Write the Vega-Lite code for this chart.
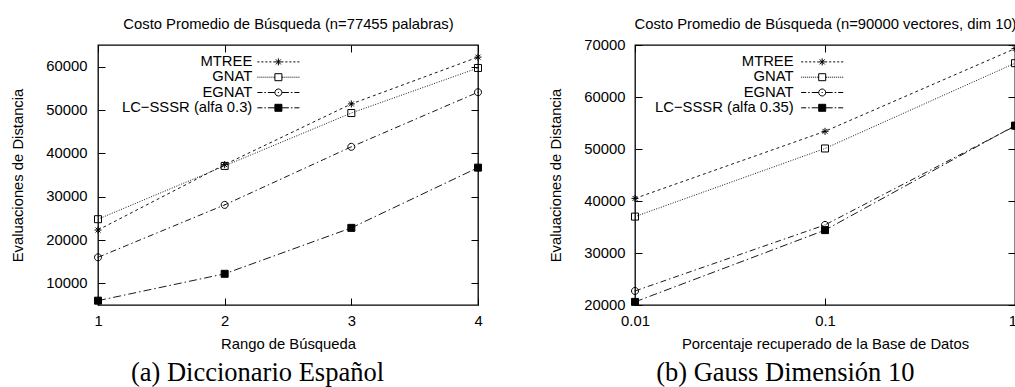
{
  "$schema": "https://vega.github.io/schema/vega-lite/v6.json",
  "padding": {"left": 10, "top": 15, "right": 0, "bottom": 0},
  "background": "white",
  "spacing": 63,
  "config": {
    "view": {"stroke": "black", "strokeWidth": 1.3},
    "axis": {"labelFont": "Liberation Sans", "labelFontSize": 14.8, "labelColor": "black", "titleFont": "Liberation Sans", "titleFontSize": 14.8, "titleFontWeight": "normal", "titleColor": "black", "tickColor": "black", "tickWidth": 1, "tickSize": -7, "domain": false, "grid": false, "labelFlush": false, "labelOverlap": false, "titleLimit": 1000, "labelLimit": 300},
    "legend": {"orient": "none", "labelFont": "Liberation Sans", "labelFontSize": 14.8, "labelColor": "black", "labelLimit": 400, "padding": 0, "rowPadding": -0.7, "symbolStrokeWidth": 1, "symbolStrokeColor": "black", "symbolOpacity": 1, "labelAlign": "right"}
  },
  "hconcat": [
    {
      "width": 380, "height": 260,
      "title": {"text": "(a) Diccionario Español", "orient": "bottom", "anchor": "middle", "font": "Liberation Serif", "fontSize": 26.5, "fontWeight": "normal", "color": "black", "offset": 8, "dx": -30.5},
      "data": {"values": [
        {"series": "MTREE", "x": 1, "y": 22300}, {"series": "MTREE", "x": 2, "y": 37400}, {"series": "MTREE", "x": 3, "y": 51400}, {"series": "MTREE", "x": 4, "y": 62200},
        {"series": "GNAT", "x": 1, "y": 24800}, {"series": "GNAT", "x": 2, "y": 37100}, {"series": "GNAT", "x": 3, "y": 49300}, {"series": "GNAT", "x": 4, "y": 59700},
        {"series": "EGNAT", "x": 1, "y": 16000}, {"series": "EGNAT", "x": 2, "y": 28100}, {"series": "EGNAT", "x": 3, "y": 41500}, {"series": "EGNAT", "x": 4, "y": 54100},
        {"series": "LC−SSSR (alfa 0.3)", "x": 1, "y": 6000}, {"series": "LC−SSSR (alfa 0.3)", "x": 2, "y": 12200}, {"series": "LC−SSSR (alfa 0.3)", "x": 3, "y": 22800}, {"series": "LC−SSSR (alfa 0.3)", "x": 4, "y": 36700}
      ]},
      "layer": [
        {
          "mark": {"type": "line", "color": "#1a1a1a"},
          "encoding": {
            "x": {"field": "x", "type": "quantitative", "scale": {"domain": [1, 4], "nice": false, "zero": false}, "axis": {"orient": "bottom", "title": "Rango de Búsqueda", "values": [1, 2, 3, 4], "format": "d", "labelPadding": 15.5, "titlePadding": 8.5}},
            "y": {"field": "y", "type": "quantitative", "scale": {"domain": [5000, 65000], "nice": false, "zero": false}, "axis": {"orient": "left", "title": "Evaluaciones de Distancia", "values": [10000, 20000, 30000, 40000, 50000, 60000], "format": "d", "labelPadding": 18, "titlePadding": 20}},
            "strokeDash": {"field": "series", "type": "nominal", "scale": {"domain": ["EGNAT", "GNAT", "LC−SSSR (alfa 0.3)", "MTREE"], "range": [[6, 3, 1.5, 3], [1, 1.5], [8, 3, 1.5, 3], [3, 3]]}, "legend": null},
            "strokeWidth": {"field": "series", "type": "nominal", "scale": {"domain": ["MTREE", "GNAT", "EGNAT", "LC−SSSR (alfa 0.3)"], "range": [1, 1, 1, 1]},
              "legend": {"orient": "none", "legendX": 173, "legendY": 9.5, "title": null, "symbolSize": 4, "labelOffset": -33.5,
                "encoding": {
                  "symbols": {"shape": {"value": {"expr": "['M-21,0h2M-17,0h2M-13,0h2M-9,0h2M-5,0h1.5M3.5,0h1.5M7,0h2M11,0h2M15,0h2M19,0h2M-3.5,0h7M0,-3.5v7M-2.5,-2.5l5,5M-2.5,2.5l5,-5','M-21,0h1M-19,0h1M-17,0h1M-15,0h1M-13,0h1M-11,0h1M-9,0h1M-7,0h1M-5,0h1.5M3.5,0h1.5M6,0h1M8,0h1M10,0h1M12,0h1M14,0h1M16,0h1M18,0h1M20,0h1M-3.5,-3.5h7v7h-7Z','M-21,0h5M-14,0h1.5M-10.5,0h7M3.5,0h7M12.5,0h1.5M16,0h5M-3.5,0a3.5,3.5,0,1,0,7,0a3.5,3.5,0,1,0,-7,0ZM-0.5,0h1','M-21,0h5M-14,0h1.5M-10.5,0h7M3.5,0h7M12.5,0h1.5M16,0h5M-3.5,-3.5h7v7h-7Z'][datum.index]"}}, "size": {"value": 4}, "fill": {"value": {"expr": "datum.index === 3 ? 'black' : 'transparent'"}}, "stroke": {"value": "black"}, "opacity": {"value": 1}}
                }
              }
            }
          }
        },
        {
          "mark": {"type": "point", "stroke": "black", "strokeWidth": 1, "opacity": 1, "size": 49},
          "encoding": {
            "x": {"field": "x", "type": "quantitative", "axis": {"orient": "top", "title": "Costo Promedio de Búsqueda (n=77455 palabras)", "values": [1, 2, 3, 4], "labels": false, "titlePadding": 13}},
            "y": {"field": "y", "type": "quantitative", "axis": {"orient": "right", "title": null, "values": [10000, 20000, 30000, 40000, 50000, 60000], "labels": false}},
            "shape": {"field": "series", "type": "nominal", "scale": {"domain": ["GNAT", "MTREE", "EGNAT", "LC−SSSR (alfa 0.3)"], "range": ["M-1,-1L1,-1L1,1L-1,1Z", "M-1,0L1,0M0,-1L0,1M-0.7,-0.7L0.7,0.7M-0.7,0.7L0.7,-0.7", "M-1,0A1,1,0,1,0,1,0A1,1,0,1,0,-1,0ZM-0.12,0L0.12,0", "M-1,-1L1,-1L1,1L-1,1Z"]}, "legend": null},
            "fill": {"condition": {"test": "indexof(datum.series, 'LC') === 0", "value": "black"}, "value": "transparent"}
          }
        }
      ],
      "resolve": {"axis": {"x": "independent", "y": "independent"}}
    },
    {
      "width": 380, "height": 260,
      "title": {"text": "(b) Gauss Dimensión 10", "orient": "bottom", "anchor": "middle", "font": "Liberation Serif", "fontSize": 26.5, "fontWeight": "normal", "color": "black", "offset": 8, "dx": -39.7},
      "data": {"values": [
        {"series": "MTREE", "x": 0.01, "y": 40500}, {"series": "MTREE", "x": 0.1, "y": 53400}, {"series": "MTREE", "x": 1, "y": 69300},
        {"series": "GNAT", "x": 0.01, "y": 37000}, {"series": "GNAT", "x": 0.1, "y": 50100}, {"series": "GNAT", "x": 1, "y": 66500},
        {"series": "EGNAT", "x": 0.01, "y": 22700}, {"series": "EGNAT", "x": 0.1, "y": 35400}, {"series": "EGNAT", "x": 1, "y": 54400},
        {"series": "LC−SSSR (alfa 0.35)", "x": 0.01, "y": 20600}, {"series": "LC−SSSR (alfa 0.35)", "x": 0.1, "y": 34400}, {"series": "LC−SSSR (alfa 0.35)", "x": 1, "y": 54500}
      ]},
      "layer": [
        {
          "mark": {"type": "line", "color": "#1a1a1a"},
          "encoding": {
            "x": {"field": "x", "type": "quantitative", "scale": {"type": "log", "domain": [0.01, 1], "nice": false}, "axis": {"orient": "bottom", "title": "Porcentaje recuperado de la Base de Datos", "values": [0.01, 0.1, 1], "format": "~g", "labelPadding": 15.5, "titlePadding": 8.5,
              "labelAlign": {"condition": {"test": "datum.value >= 0.99", "value": "right"}, "value": "center"},
              "labelOffset": {"condition": {"test": "datum.value >= 0.99", "value": 1.5}, "value": 0}}},
            "y": {"field": "y", "type": "quantitative", "scale": {"domain": [20000, 70000], "nice": false, "zero": false}, "axis": {"orient": "left", "title": "Evaluaciones de Distancia", "values": [20000, 30000, 40000, 50000, 60000, 70000], "format": "d", "labelPadding": 17, "titlePadding": 20}},
            "strokeDash": {"field": "series", "type": "nominal", "scale": {"domain": ["EGNAT", "GNAT", "LC−SSSR (alfa 0.35)", "MTREE"], "range": [[6, 3, 1.5, 3], [1, 1.5], [8, 3, 1.5, 3], [3, 3]]}, "legend": null},
            "strokeWidth": {"field": "series", "type": "nominal", "scale": {"domain": ["MTREE", "GNAT", "EGNAT", "LC−SSSR (alfa 0.35)"], "range": [1, 1, 1, 1]},
              "legend": {"orient": "none", "legendX": 179.8, "legendY": 9.5, "title": null, "symbolSize": 4, "labelOffset": -36,
                "encoding": {
                  "symbols": {"shape": {"value": {"expr": "['M-21,0h2M-17,0h2M-13,0h2M-9,0h2M-5,0h1.5M3.5,0h1.5M7,0h2M11,0h2M15,0h2M19,0h2M-3.5,0h7M0,-3.5v7M-2.5,-2.5l5,5M-2.5,2.5l5,-5','M-21,0h1M-19,0h1M-17,0h1M-15,0h1M-13,0h1M-11,0h1M-9,0h1M-7,0h1M-5,0h1.5M3.5,0h1.5M6,0h1M8,0h1M10,0h1M12,0h1M14,0h1M16,0h1M18,0h1M20,0h1M-3.5,-3.5h7v7h-7Z','M-21,0h5M-14,0h1.5M-10.5,0h7M3.5,0h7M12.5,0h1.5M16,0h5M-3.5,0a3.5,3.5,0,1,0,7,0a3.5,3.5,0,1,0,-7,0ZM-0.5,0h1','M-21,0h5M-14,0h1.5M-10.5,0h7M3.5,0h7M12.5,0h1.5M16,0h5M-3.5,-3.5h7v7h-7Z'][datum.index]"}}, "size": {"value": 4}, "fill": {"value": {"expr": "datum.index === 3 ? 'black' : 'transparent'"}}, "stroke": {"value": "black"}, "opacity": {"value": 1}}
                }
              }
            }
          }
        },
        {
          "mark": {"type": "point", "stroke": "black", "strokeWidth": 1, "opacity": 1, "size": 49},
          "encoding": {
            "x": {"field": "x", "type": "quantitative", "axis": {"orient": "top", "title": "Costo Promedio de Búsqueda (n=90000 vectores, dim 10)", "values": [0.01, 0.1, 1], "labels": false, "titlePadding": 13}},
            "y": {"field": "y", "type": "quantitative", "axis": {"orient": "right", "title": null, "values": [20000, 30000, 40000, 50000, 60000, 70000], "labels": false}},
            "shape": {"field": "series", "type": "nominal", "scale": {"domain": ["GNAT", "MTREE", "EGNAT", "LC−SSSR (alfa 0.35)"], "range": ["M-1,-1L1,-1L1,1L-1,1Z", "M-1,0L1,0M0,-1L0,1M-0.7,-0.7L0.7,0.7M-0.7,0.7L0.7,-0.7", "M-1,0A1,1,0,1,0,1,0A1,1,0,1,0,-1,0ZM-0.12,0L0.12,0", "M-1,-1L1,-1L1,1L-1,1Z"]}, "legend": null},
            "fill": {"condition": {"test": "indexof(datum.series, 'LC') === 0", "value": "black"}, "value": "transparent"}
          }
        }
      ],
      "resolve": {"axis": {"x": "independent", "y": "independent"}}
    }
  ],
  "resolve": {"scale": {"shape": "independent", "strokeDash": "independent", "strokeWidth": "independent", "x": "independent", "y": "independent"}, "legend": {"strokeWidth": "independent"}}
}
